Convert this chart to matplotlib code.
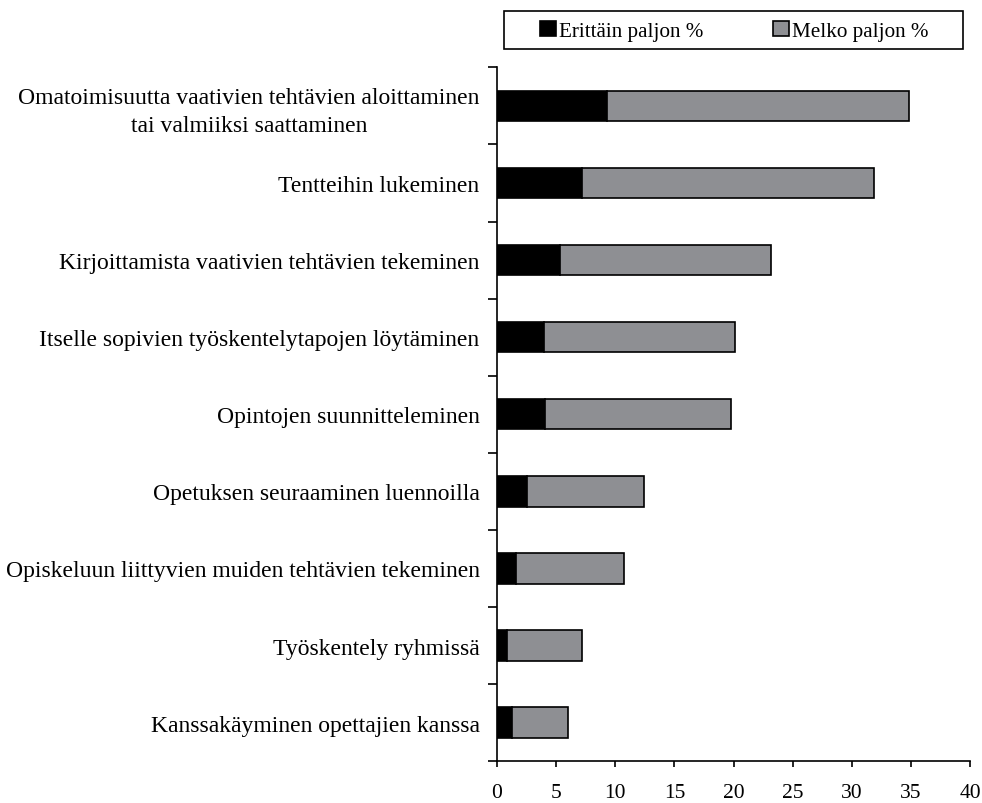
import matplotlib
matplotlib.use("Agg")
import matplotlib.pyplot as plt
from matplotlib.patches import Rectangle
from matplotlib.ticker import FixedLocator
import numpy as np

plt.rcParams["font.family"] = ["Liberation Serif", "DejaVu Serif"]

# Categories, top to bottom
categories = [
    "Omatoimisuutta vaativien tehtävien aloittaminen\ntai valmiiksi saattaminen",
    "Tentteihin lukeminen",
    "Kirjoittamista vaativien tehtävien tekeminen",
    "Itselle sopivien työskentelytapojen löytäminen",
    "Opintojen suunnitteleminen",
    "Opetuksen seuraaminen luennoilla",
    "Opiskeluun liittyvien muiden tehtävien tekeminen",
    "Työskentely ryhmissä",
    "Kanssakäyminen opettajien kanssa",
]
erittain = [9.3, 7.2, 5.35, 4.0, 4.1, 2.55, 1.6, 0.85, 1.3]
melko = [25.5, 24.7, 17.85, 16.1, 15.7, 9.85, 9.1, 6.35, 4.75]

x_ticks = [0, 5, 10, 15, 20, 25, 30, 35, 40]

fig = plt.figure(figsize=(9.82, 8.04), dpi=100)
ax = fig.add_axes([0.506, 0.052, 0.482, 0.863])

n = len(categories)
y = np.arange(n)[::-1]
h = 0.395
ax.barh(y, erittain, height=h, color="black", edgecolor="black",
        linewidth=1.2, label="Erittäin paljon %")
ax.barh(y, melko, left=erittain, height=h, color="#8e8f93",
        edgecolor="black", linewidth=1.2, label="Melko paljon %")

ax.set_xlim(0, 40)
ax.set_ylim(-0.5, n - 0.5)
ax.xaxis.set_major_locator(FixedLocator(x_ticks))
ax.tick_params(axis="x", direction="out", length=4.5, width=1.2,
               labelsize=15.5, pad=11.5)

ax.set_yticks(y)
ax.set_yticklabels(categories, fontsize=17.0, linespacing=1.4,
                   multialignment="center")
ax.yaxis.set_minor_locator(FixedLocator(np.arange(-0.5, n, 1.0)))
ax.tick_params(axis="y", which="major", length=0, pad=12.5)
ax.tick_params(axis="y", which="minor", direction="out", length=6.5, width=1.2)

for side in ["top", "right"]:
    ax.spines[side].set_visible(False)
for side in ["left", "bottom"]:
    ax.spines[side].set_linewidth(1.2)

# legend box drawn separately, legend centered inside
W, H = fig.get_size_inches() * fig.dpi
box = Rectangle((504 / W, 1 - 50 / H), 459 / W, 38 / H,
                transform=fig.transFigure, facecolor="white",
                edgecolor="black", linewidth=1.2)
fig.add_artist(box)
fig.legend(loc="center", bbox_to_anchor=(734.5 / W, 1 - 32 / H),
           ncol=2, fontsize=15.2, frameon=False,
           handlelength=0.75, handleheight=0.75, handletextpad=0.15,
           columnspacing=3.3, borderpad=0)

fig.savefig("out.png", dpi=100, facecolor="white")
